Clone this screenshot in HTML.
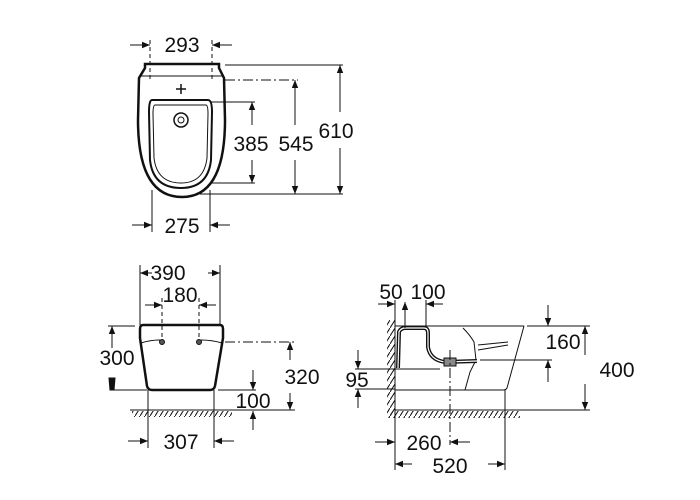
<!DOCTYPE html>
<html><head><meta charset="utf-8"><style>
html,body{margin:0;padding:0;background:#fff;width:700px;height:500px;overflow:hidden}
text{font-family:"Liberation Sans",sans-serif;font-size:21px;fill:#111}
</style></head><body>
<svg width="700" height="500" viewBox="0 0 700 500" xmlns="http://www.w3.org/2000/svg">
<defs>
<marker id="a" viewBox="0 0 10 10" refX="10" refY="5" markerWidth="8" markerHeight="8" orient="auto-start-reverse" markerUnits="userSpaceOnUse"><path d="M0,1 L10,5 L0,9 z" fill="#111"/></marker>
<pattern id="h" width="5" height="8" patternUnits="userSpaceOnUse"><path d="M0,8 L5,0" stroke="#111" stroke-width="1"/></pattern>
</defs>
<g stroke="#111" stroke-width="1" fill="none">
<!-- TOP VIEW -->
<line x1="150" y1="40" x2="150" y2="80" stroke-dasharray="4,3"/>
<line x1="212" y1="40" x2="212" y2="80" stroke-dasharray="4,3"/>
<line x1="130" y1="45" x2="150" y2="45" marker-end="url(#a)"/>
<line x1="232" y1="45" x2="212" y2="45" marker-end="url(#a)"/>
<path d="M145,64 L219,64 L219,68 L224,78 L225,120 Q225,197 182,197 Q138,197 138,120 L139,78 L145,68 Z" stroke-width="2.5"/>
<line x1="140" y1="76" x2="223" y2="76"/>
<path d="M152,100 L208,100 Q212,100 212,112 L211,160 Q208,188 181,188 Q153,188 150,160 L149,112 Q149,100 152,100 Z" stroke-width="2"/>
<path d="M155,105 L206,105 Q208,105 208,114 L207,158 Q204,183 181,183 Q157,183 154,158 L153,114 Q153,105 155,105 Z"/>
<circle cx="181" cy="120" r="7" stroke-width="1.5"/><circle cx="181" cy="120" r="3"/>
<path d="M181,84 v10 M176,89 h10" stroke-width="1.5"/>
<line x1="225" y1="65" x2="343" y2="65"/>
<line x1="225" y1="80" x2="298" y2="80" stroke-dasharray="10,3,2,3"/>
<line x1="210" y1="102" x2="255" y2="102"/>
<line x1="210" y1="183" x2="255" y2="183"/>
<line x1="200" y1="194" x2="343" y2="194"/>
<line x1="252" y1="125" x2="252" y2="102" marker-end="url(#a)"/>
<line x1="252" y1="160" x2="252" y2="183" marker-end="url(#a)"/>
<line x1="295" y1="125" x2="295" y2="80" marker-end="url(#a)"/>
<line x1="295" y1="160" x2="295" y2="194" marker-end="url(#a)"/>
<line x1="340" y1="112" x2="340" y2="65" marker-end="url(#a)"/>
<line x1="340" y1="148" x2="340" y2="194" marker-end="url(#a)"/>
<line x1="152" y1="190" x2="152" y2="232"/>
<line x1="210" y1="190" x2="210" y2="232"/>
<line x1="132" y1="225" x2="152" y2="225" marker-end="url(#a)"/>
<line x1="230" y1="225" x2="210" y2="225" marker-end="url(#a)"/>

<!-- FRONT VIEW -->
<line x1="140" y1="265" x2="140" y2="325"/>
<line x1="220" y1="265" x2="220" y2="325"/>
<line x1="152" y1="273" x2="140" y2="273" marker-end="url(#a)"/>
<line x1="208" y1="273" x2="220" y2="273" marker-end="url(#a)"/>
<line x1="162" y1="298" x2="162" y2="342" stroke-dasharray="4,3"/>
<line x1="199" y1="298" x2="199" y2="342" stroke-dasharray="4,3"/>
<line x1="145" y1="305" x2="162" y2="305" marker-end="url(#a)"/>
<line x1="216" y1="305" x2="199" y2="305" marker-end="url(#a)"/>
<path d="M143,325 L220,325 Q223,325 223,329 L223,338 L215,386 Q214,390 210,390 L152,390 Q148,390 147,386 L140,338 L140,329 Q140,325 143,325 Z" stroke-width="2.5"/>
<path d="M141,343 Q150,340 160,340 M201,340 Q212,340 222,343"/>
<circle cx="162" cy="342" r="2.5" fill="#555"/><circle cx="199" cy="342" r="2.5" fill="#555"/>
<line x1="108" y1="326" x2="135" y2="326"/>
<line x1="112" y1="390" x2="147" y2="390"/>
<line x1="112" y1="348" x2="112" y2="326" marker-end="url(#a)"/>
<path d="M109,378 L115,378 L114,390 L110,390 Z" fill="#111"/>
<line x1="225" y1="342" x2="295" y2="342" stroke-dasharray="10,3,2,3"/>
<line x1="290" y1="360" x2="290" y2="342" marker-end="url(#a)"/>
<line x1="290" y1="393" x2="290" y2="410" marker-end="url(#a)"/>
<line x1="218" y1="390" x2="256" y2="390"/>
<line x1="253" y1="370" x2="253" y2="390" marker-end="url(#a)"/>
<line x1="253" y1="430" x2="253" y2="411" marker-end="url(#a)"/>
<line x1="130" y1="410" x2="295" y2="410"/>
<rect x="132" y="411" width="100" height="6" fill="url(#h)" stroke="none"/>
<line x1="148" y1="390" x2="148" y2="448"/>
<line x1="214" y1="390" x2="214" y2="448"/>
<line x1="128" y1="441" x2="148" y2="441" marker-end="url(#a)"/>
<line x1="234" y1="441" x2="214" y2="441" marker-end="url(#a)"/>

<!-- SIDE VIEW -->
<rect x="387" y="320" width="8" height="98" fill="url(#h)" stroke="none"/>
<line x1="395" y1="320" x2="395" y2="470"/>
<rect x="388" y="411" width="132" height="7" fill="url(#h)" stroke="none"/>
<line x1="395" y1="410" x2="590" y2="410"/>
<line x1="395" y1="326" x2="524" y2="326"/>
<path d="M524,326 L507,388 Q506,390 503,390 L395,390"/>
<path d="M463,328 Q470,335 474,342 L476,360 L470,372 L465,390" />
<path d="M478,345 L508,342 M478,350 L508,345"/>
<path d="M398,368 L399,332 Q400,329 404,328 L424,328 Q428,328 428,333 L428,347 Q430,360 445,362 L477,361" stroke-width="4"/>
<path d="M398,368 L399,332 Q400,329 404,328 L424,328 Q428,328 428,333 L428,347 Q430,360 445,362 L477,361" stroke="#fff" stroke-width="1.2"/>
<rect x="444" y="358" width="12" height="8" fill="#888"/>
<line x1="395" y1="300" x2="395" y2="320"/>
<line x1="405" y1="310" x2="405" y2="328"/>
<line x1="426" y1="300" x2="426" y2="326"/>
<line x1="378" y1="304" x2="395" y2="304" marker-end="url(#a)"/>
<line x1="405" y1="320" x2="405" y2="302" marker-end="url(#a)"/>
<line x1="443" y1="304" x2="426" y2="304" marker-end="url(#a)"/>
<line x1="450" y1="350" x2="450" y2="445" stroke-dasharray="10,3,2,3"/>
<line x1="527" y1="326" x2="590" y2="326"/>
<line x1="480" y1="360" x2="552" y2="360"/>
<line x1="548" y1="305" x2="548" y2="326" marker-end="url(#a)"/>
<line x1="548" y1="382" x2="548" y2="360" marker-end="url(#a)"/>
<line x1="585" y1="355" x2="585" y2="326" marker-end="url(#a)"/>
<line x1="585" y1="384" x2="585" y2="410" marker-end="url(#a)"/>
<line x1="355" y1="369" x2="440" y2="369"/>
<line x1="355" y1="389" x2="395" y2="389"/>
<line x1="358" y1="350" x2="358" y2="369" marker-end="url(#a)"/>
<line x1="358" y1="408" x2="358" y2="389" marker-end="url(#a)"/>
<line x1="505" y1="390" x2="505" y2="470"/>
<line x1="375" y1="442" x2="395" y2="442" marker-end="url(#a)"/>
<line x1="470" y1="442" x2="450" y2="442" marker-end="url(#a)"/>
<line x1="412" y1="464" x2="395" y2="464" marker-end="url(#a)"/>
<line x1="488" y1="464" x2="505" y2="464" marker-end="url(#a)"/>
</g>
<g text-anchor="middle">
<text x="182" y="52">293</text>
<text x="251" y="151">385</text>
<text x="296" y="151">545</text>
<text x="336" y="138">610</text>
<text x="182" y="233">275</text>
<text x="168" y="280">390</text>
<text x="180" y="302">180</text>
<text x="117" y="365">300</text>
<text x="302" y="384">320</text>
<text x="253" y="408">100</text>
<text x="181" y="449">307</text>
<text x="391" y="299">50</text>
<text x="428" y="299">100</text>
<text x="563" y="349">160</text>
<text x="617" y="377">400</text>
<text x="357" y="387">95</text>
<text x="424" y="450">260</text>
<text x="450" y="473">520</text>
</g>
</svg>
</body></html>
